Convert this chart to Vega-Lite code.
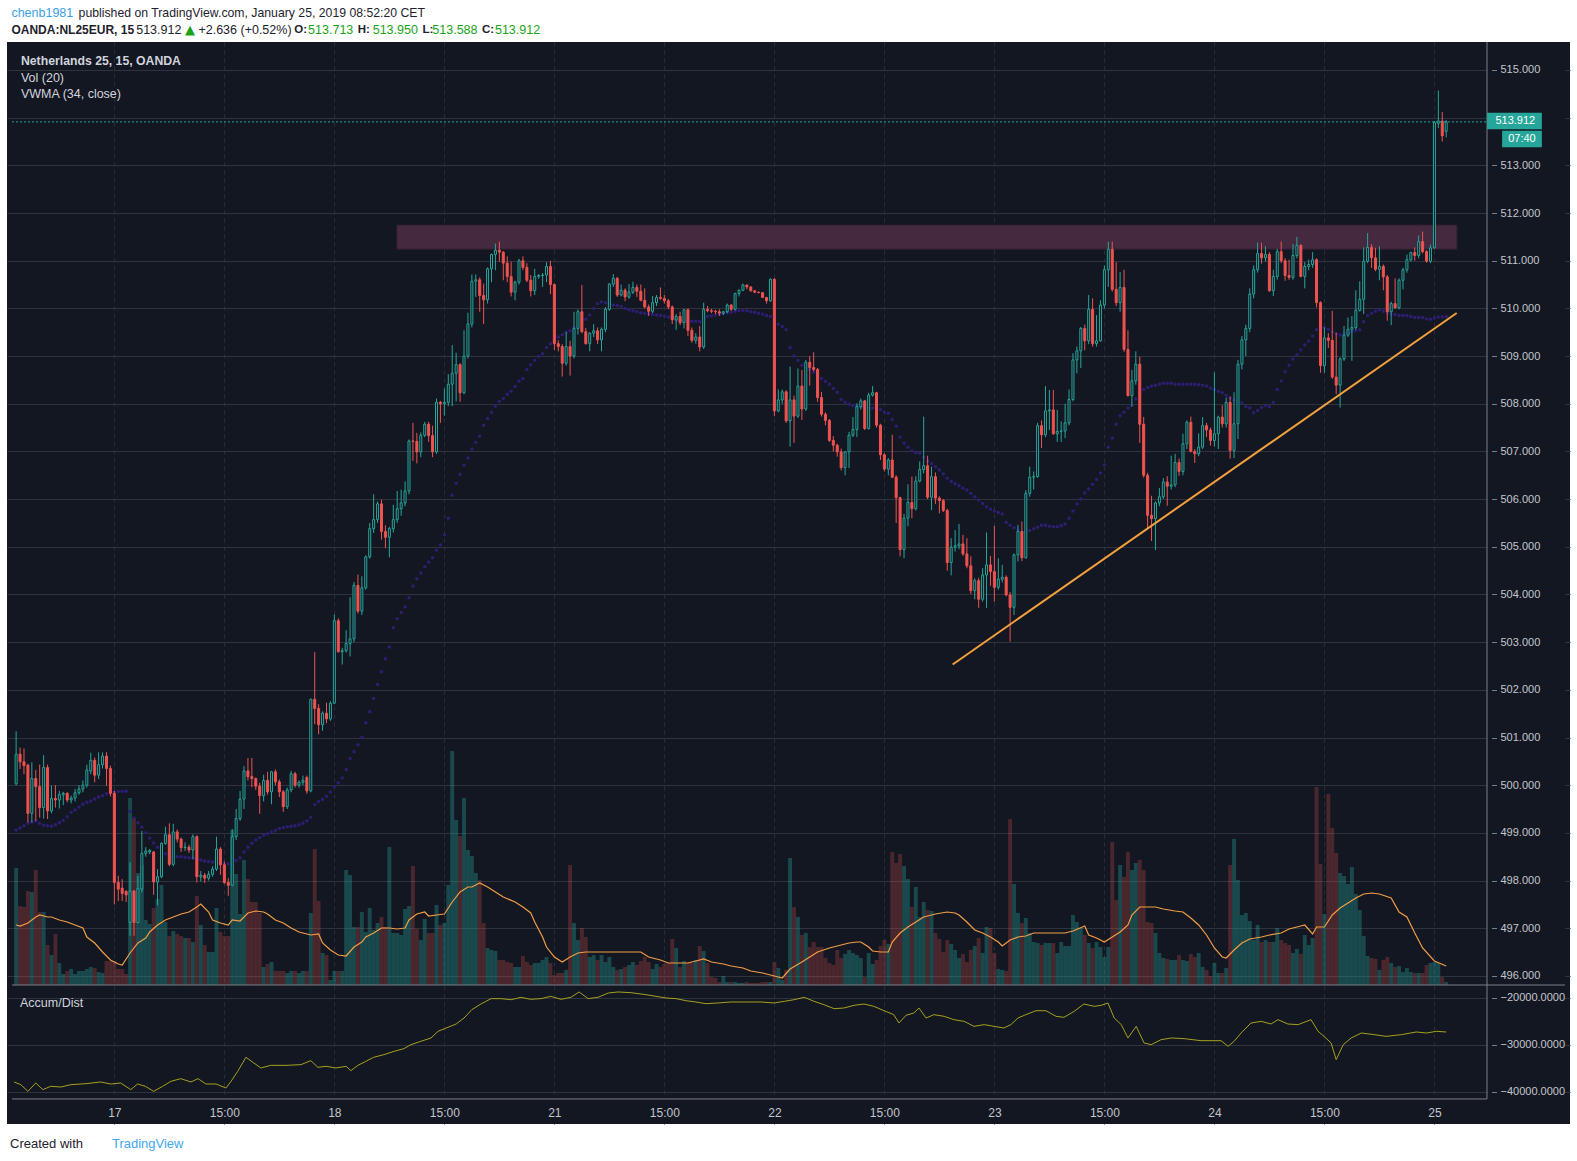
{
  "$schema": "https://vega.github.io/schema/vega-lite/v6.json",
  "width": 1563,
  "height": 1082,
  "autosize": {"type": "none"},
  "padding": {"left": 7, "top": 42, "right": 7, "bottom": 37},
  "background": "white",
  "config": {
    "font": "Liberation Sans",
    "view": {"fill": "#131722", "stroke": null},
    "axis": {"labelFont": "Liberation Sans"}
  },
  "datasets": {
    "bars": [
{"i":0,"o":500.03,"h":501.13,"l":500,"c":500.65,"v":117,"w":499.06},
{"i":1,"o":500.65,"h":500.79,"l":500.34,"c":500.49,"v":79,"w":499.1},
{"i":2,"o":500.49,"h":500.77,"l":500.23,"c":500.41,"v":78,"w":499.15},
{"i":3,"o":500.42,"h":500.45,"l":499.22,"c":499.41,"v":94,"w":499.2},
{"i":4,"o":499.41,"h":500.48,"l":499.22,"c":500.14,"v":93,"w":499.23},
{"i":5,"o":500.14,"h":500.32,"l":499.25,"c":499.97,"v":115,"w":499.25},
{"i":6,"o":499.97,"h":500.43,"l":499.32,"c":499.53,"v":73,"w":499.2},
{"i":7,"o":499.53,"h":500.63,"l":499.3,"c":500.37,"v":73,"w":499.16},
{"i":8,"o":500.37,"h":500.43,"l":499.29,"c":499.46,"v":40,"w":499.15},
{"i":9,"o":499.46,"h":499.99,"l":499.41,"c":499.72,"v":30,"w":499.14},
{"i":10,"o":499.72,"h":500,"l":499.53,"c":499.69,"v":51,"w":499.17},
{"i":11,"o":499.69,"h":499.88,"l":499.51,"c":499.8,"v":22,"w":499.21},
{"i":12,"o":499.8,"h":499.86,"l":499.58,"c":499.83,"v":11,"w":499.26},
{"i":13,"o":499.83,"h":499.85,"l":499.64,"c":499.69,"v":14,"w":499.34},
{"i":14,"o":499.69,"h":499.78,"l":499.62,"c":499.73,"v":16,"w":499.43},
{"i":15,"o":499.73,"h":499.92,"l":499.66,"c":499.84,"v":11,"w":499.48},
{"i":16,"o":499.84,"h":500,"l":499.8,"c":499.92,"v":14,"w":499.54},
{"i":17,"o":499.92,"h":500.1,"l":499.85,"c":500,"v":14,"w":499.6},
{"i":18,"o":500,"h":500.43,"l":499.95,"c":500.32,"v":16,"w":499.64},
{"i":19,"o":500.3,"h":500.68,"l":500.23,"c":500.52,"v":18,"w":499.67},
{"i":20,"o":500.52,"h":500.58,"l":500.06,"c":500.21,"v":17,"w":499.71},
{"i":21,"o":500.21,"h":500.69,"l":500.13,"c":500.43,"v":13,"w":499.75},
{"i":22,"o":500.43,"h":500.69,"l":500.35,"c":500.61,"v":12,"w":499.78},
{"i":23,"o":500.61,"h":500.69,"l":499.99,"c":500.35,"v":24,"w":499.82},
{"i":24,"o":500.35,"h":500.41,"l":499.76,"c":499.83,"v":24,"w":499.84},
{"i":25,"o":499.83,"h":499.88,"l":497.5,"c":497.96,"v":24,"w":499.86},
{"i":26,"o":497.96,"h":498.1,"l":497.57,"c":497.82,"v":16,"w":499.87},
{"i":27,"o":497.84,"h":498.03,"l":497.57,"c":497.73,"v":16,"w":499.87},
{"i":28,"o":497.77,"h":497.8,"l":497.55,"c":497.7,"v":11,"w":499.88},
{"i":29,"o":497.12,"h":498.38,"l":496.84,"c":497.78,"v":187,"w":499.45},
{"i":30,"o":497.78,"h":497.8,"l":496.84,"c":497.12,"v":167,"w":499.31},
{"i":31,"o":497.12,"h":498.1,"l":497.1,"c":497.83,"v":112,"w":499.21},
{"i":32,"o":497.82,"h":499.04,"l":497.75,"c":498.57,"v":120,"w":499.12},
{"i":33,"o":498.57,"h":498.7,"l":498.5,"c":498.62,"v":65,"w":499},
{"i":34,"o":498.6,"h":498.66,"l":498.55,"c":498.63,"v":61,"w":498.89},
{"i":35,"o":498.6,"h":498.62,"l":497.7,"c":497.97,"v":77,"w":498.79},
{"i":36,"o":497.97,"h":498.24,"l":497.48,"c":498.08,"v":86,"w":498.7},
{"i":37,"o":498.08,"h":498.8,"l":498.05,"c":498.78,"v":100,"w":498.62},
{"i":38,"o":498.78,"h":499.13,"l":498.75,"c":498.96,"v":63,"w":498.56},
{"i":39,"o":498.96,"h":499.2,"l":498.3,"c":498.34,"v":49,"w":498.52},
{"i":40,"o":498.34,"h":499.19,"l":498.3,"c":499.02,"v":54,"w":498.51},
{"i":41,"o":499.02,"h":499.07,"l":498.8,"c":498.87,"v":51,"w":498.5},
{"i":42,"o":498.87,"h":498.9,"l":498.6,"c":498.69,"v":49,"w":498.5},
{"i":43,"o":498.69,"h":498.8,"l":498.62,"c":498.7,"v":47,"w":498.49},
{"i":44,"o":498.7,"h":498.75,"l":498.58,"c":498.64,"v":47,"w":498.48},
{"i":45,"o":498.64,"h":498.97,"l":498.45,"c":498.92,"v":43,"w":498.47},
{"i":46,"o":498.92,"h":498.95,"l":497.96,"c":498.08,"v":89,"w":498.45},
{"i":47,"o":498.08,"h":498.2,"l":497.98,"c":498.11,"v":60,"w":498.43},
{"i":48,"o":498.11,"h":498.16,"l":497.95,"c":498.05,"v":40,"w":498.41},
{"i":49,"o":498.05,"h":498.2,"l":498,"c":498.13,"v":33,"w":498.4},
{"i":50,"o":498.13,"h":498.3,"l":498.08,"c":498.24,"v":33,"w":498.39},
{"i":51,"o":498.24,"h":498.92,"l":498.2,"c":498.66,"v":77,"w":498.37},
{"i":52,"o":498.66,"h":498.7,"l":498.12,"c":498.33,"v":53,"w":498.36},
{"i":53,"o":498.33,"h":498.4,"l":497.93,"c":497.96,"v":49,"w":498.35},
{"i":54,"o":497.96,"h":498.05,"l":497.68,"c":497.9,"v":49,"w":498.35},
{"i":55,"o":497.9,"h":499.08,"l":497.88,"c":498.92,"v":155,"w":498.37},
{"i":56,"o":498.92,"h":499.5,"l":498.85,"c":499.3,"v":111,"w":498.42},
{"i":57,"o":499.3,"h":499.88,"l":499.25,"c":499.71,"v":71,"w":498.48},
{"i":58,"o":499.71,"h":500.4,"l":499.5,"c":500.3,"v":125,"w":498.6},
{"i":59,"o":500.3,"h":500.57,"l":500.1,"c":500.18,"v":106,"w":498.7},
{"i":60,"o":500.18,"h":500.57,"l":499.96,"c":500.14,"v":83,"w":498.78},
{"i":61,"o":500.14,"h":500.16,"l":499.9,"c":499.98,"v":83,"w":498.85},
{"i":62,"o":499.98,"h":500.05,"l":499.4,"c":499.78,"v":72,"w":498.9},
{"i":63,"o":499.78,"h":500.22,"l":499.66,"c":500.1,"v":18,"w":498.95},
{"i":64,"o":500.1,"h":500.28,"l":499.8,"c":499.86,"v":21,"w":498.98},
{"i":65,"o":499.86,"h":500.3,"l":499.6,"c":500.28,"v":23,"w":499.02},
{"i":66,"o":500.28,"h":500.33,"l":500,"c":500.07,"v":14,"w":499.05},
{"i":67,"o":500.07,"h":500.12,"l":499.75,"c":499.86,"v":14,"w":499.09},
{"i":68,"o":499.86,"h":499.9,"l":499.44,"c":499.55,"v":14,"w":499.11},
{"i":69,"o":499.55,"h":499.95,"l":499.5,"c":499.9,"v":12,"w":499.13},
{"i":70,"o":499.9,"h":500.3,"l":499.85,"c":500.24,"v":14,"w":499.14},
{"i":71,"o":500.24,"h":500.28,"l":499.95,"c":500,"v":14,"w":499.15},
{"i":72,"o":500,"h":500.1,"l":499.95,"c":500.06,"v":12,"w":499.17},
{"i":73,"o":500.06,"h":500.2,"l":500,"c":500.1,"v":14,"w":499.2},
{"i":74,"o":500.16,"h":500.2,"l":499.82,"c":499.88,"v":14,"w":499.25},
{"i":75,"o":499.88,"h":501.82,"l":499.85,"c":501.8,"v":72,"w":499.33},
{"i":76,"o":501.8,"h":502.79,"l":501.28,"c":501.61,"v":136,"w":499.59},
{"i":77,"o":501.61,"h":501.7,"l":501.07,"c":501.27,"v":84,"w":499.66},
{"i":78,"o":501.27,"h":501.55,"l":501.14,"c":501.51,"v":32,"w":499.7},
{"i":79,"o":501.51,"h":501.73,"l":501.3,"c":501.39,"v":30,"w":499.77},
{"i":80,"o":501.39,"h":501.76,"l":501.35,"c":501.72,"v":5,"w":499.86},
{"i":81,"o":501.72,"h":503.58,"l":501.7,"c":503.45,"v":14,"w":499.97},
{"i":82,"o":503.45,"h":503.5,"l":502.78,"c":502.8,"v":14,"w":500.05},
{"i":83,"o":502.8,"h":502.88,"l":502.53,"c":502.82,"v":14,"w":500.15},
{"i":84,"o":502.82,"h":503.25,"l":502.78,"c":502.97,"v":115,"w":500.33},
{"i":85,"o":502.97,"h":503.94,"l":502.7,"c":503.07,"v":110,"w":500.56},
{"i":86,"o":503.07,"h":504.26,"l":503,"c":504.19,"v":58,"w":500.7},
{"i":87,"o":504.19,"h":504.42,"l":503.6,"c":503.65,"v":58,"w":500.85},
{"i":88,"o":503.65,"h":504.38,"l":503.57,"c":504.14,"v":73,"w":501},
{"i":89,"o":504.14,"h":504.82,"l":504.1,"c":504.79,"v":53,"w":501.31},
{"i":90,"o":504.79,"h":505.5,"l":504.75,"c":505.38,"v":77,"w":501.54},
{"i":91,"o":505.38,"h":506.1,"l":505.29,"c":505.57,"v":55,"w":501.82},
{"i":92,"o":505.57,"h":505.95,"l":505.5,"c":505.9,"v":62,"w":502.11},
{"i":93,"o":505.9,"h":505.99,"l":505.15,"c":505.32,"v":68,"w":502.38},
{"i":94,"o":505.32,"h":505.45,"l":504.97,"c":505.2,"v":58,"w":502.65},
{"i":95,"o":505.2,"h":505.42,"l":504.78,"c":505.38,"v":138,"w":502.9},
{"i":96,"o":505.38,"h":505.88,"l":505.3,"c":505.57,"v":52,"w":503.3},
{"i":97,"o":505.57,"h":506.17,"l":505.5,"c":505.8,"v":52,"w":503.49},
{"i":98,"o":505.8,"h":506.2,"l":505.65,"c":505.92,"v":50,"w":503.62},
{"i":99,"o":505.92,"h":506.37,"l":505.85,"c":506.17,"v":76,"w":503.74},
{"i":100,"o":506.17,"h":507.25,"l":506.1,"c":507.22,"v":79,"w":503.93},
{"i":101,"o":507.22,"h":507.6,"l":506.8,"c":507.21,"v":119,"w":504.18},
{"i":102,"o":507.21,"h":507.39,"l":506.75,"c":506.99,"v":56,"w":504.33},
{"i":103,"o":506.99,"h":507.4,"l":506.88,"c":507.34,"v":45,"w":504.45},
{"i":104,"o":507.34,"h":507.62,"l":507.3,"c":507.57,"v":66,"w":504.58},
{"i":105,"o":507.57,"h":507.62,"l":507.2,"c":507.33,"v":52,"w":504.68},
{"i":106,"o":507.33,"h":507.54,"l":506.88,"c":506.99,"v":52,"w":504.77},
{"i":107,"o":506.99,"h":508.11,"l":506.95,"c":508.03,"v":80,"w":504.93},
{"i":108,"o":508.03,"h":508.06,"l":507.6,"c":508,"v":60,"w":505.04},
{"i":109,"o":508,"h":508.32,"l":507.75,"c":508.03,"v":62,"w":505.25},
{"i":110,"o":508.03,"h":508.62,"l":507.95,"c":508.41,"v":100,"w":505.6},
{"i":111,"o":508.41,"h":509.23,"l":507.95,"c":508.64,"v":234,"w":506.08},
{"i":112,"o":508.64,"h":509.07,"l":508.05,"c":508.82,"v":165,"w":506.33},
{"i":113,"o":508.82,"h":508.85,"l":508.04,"c":508.23,"v":149,"w":506.52},
{"i":114,"o":508.23,"h":509.54,"l":508.2,"c":509,"v":187,"w":506.71},
{"i":115,"o":509,"h":509.91,"l":508.95,"c":509.67,"v":135,"w":506.86},
{"i":116,"o":509.67,"h":510.71,"l":509.6,"c":510.57,"v":129,"w":507.05},
{"i":117,"o":510.57,"h":510.71,"l":510.24,"c":510.6,"v":112,"w":507.19},
{"i":118,"o":510.6,"h":510.65,"l":509.93,"c":510.27,"v":105,"w":507.32},
{"i":119,"o":510.27,"h":510.52,"l":509.67,"c":510.18,"v":62,"w":507.55},
{"i":120,"o":510.18,"h":510.86,"l":510.1,"c":510.83,"v":37,"w":507.69},
{"i":121,"o":510.83,"h":511.15,"l":510.55,"c":511.13,"v":35,"w":507.82},
{"i":122,"o":511.13,"h":511.36,"l":510.8,"c":511.22,"v":34,"w":507.95},
{"i":123,"o":511.22,"h":511.4,"l":510.98,"c":511.18,"v":25,"w":508.05},
{"i":124,"o":511.18,"h":511.2,"l":510.59,"c":510.95,"v":25,"w":508.11},
{"i":125,"o":510.95,"h":511.09,"l":510.55,"c":510.67,"v":23,"w":508.2},
{"i":126,"o":510.67,"h":510.98,"l":510.25,"c":510.34,"v":22,"w":508.26},
{"i":127,"o":510.34,"h":510.58,"l":510.17,"c":510.55,"v":18,"w":508.36},
{"i":128,"o":510.55,"h":511.04,"l":510.5,"c":511,"v":18,"w":508.47},
{"i":129,"o":511,"h":511.09,"l":510.8,"c":510.86,"v":29,"w":508.53},
{"i":130,"o":510.86,"h":510.95,"l":510.55,"c":510.59,"v":23,"w":508.72},
{"i":131,"o":510.59,"h":510.7,"l":510.25,"c":510.37,"v":20,"w":508.82},
{"i":132,"o":510.37,"h":510.83,"l":510.28,"c":510.67,"v":22,"w":508.91},
{"i":133,"o":510.67,"h":510.72,"l":510.62,"c":510.69,"v":22,"w":508.99},
{"i":134,"o":510.69,"h":510.74,"l":510.45,"c":510.7,"v":25,"w":509.05},
{"i":135,"o":510.7,"h":510.97,"l":510.55,"c":510.88,"v":28,"w":509.18},
{"i":136,"o":510.88,"h":511,"l":510.3,"c":510.5,"v":22,"w":509.26},
{"i":137,"o":510.5,"h":510.52,"l":509.13,"c":509.26,"v":10,"w":509.37},
{"i":138,"o":509.26,"h":509.33,"l":509.1,"c":509.2,"v":12,"w":509.4},
{"i":139,"o":509.2,"h":509.25,"l":508.57,"c":508.85,"v":12,"w":509.45},
{"i":140,"o":508.85,"h":509.5,"l":508.8,"c":509.2,"v":15,"w":509.5},
{"i":141,"o":509.2,"h":509.32,"l":508.59,"c":509,"v":120,"w":509.53},
{"i":142,"o":509,"h":509.93,"l":508.95,"c":509.58,"v":62,"w":509.6},
{"i":143,"o":509.58,"h":509.98,"l":509.45,"c":509.93,"v":45,"w":509.66},
{"i":144,"o":509.93,"h":510.49,"l":509.48,"c":509.51,"v":57,"w":509.72},
{"i":145,"o":509.51,"h":509.59,"l":509.24,"c":509.26,"v":48,"w":509.77},
{"i":146,"o":509.26,"h":509.5,"l":509.1,"c":509.48,"v":28,"w":509.86},
{"i":147,"o":509.48,"h":509.67,"l":509.4,"c":509.53,"v":30,"w":510},
{"i":148,"o":509.53,"h":509.6,"l":509.25,"c":509.34,"v":25,"w":510.1},
{"i":149,"o":509.34,"h":509.6,"l":509.1,"c":509.56,"v":30,"w":510.14},
{"i":150,"o":509.56,"h":510.03,"l":509.5,"c":509.98,"v":23,"w":510.12},
{"i":151,"o":509.98,"h":510.53,"l":509.95,"c":510.51,"v":28,"w":510.09},
{"i":152,"o":510.51,"h":510.72,"l":510.45,"c":510.63,"v":18,"w":510.07},
{"i":153,"o":510.63,"h":510.66,"l":510.24,"c":510.28,"v":15,"w":510.06},
{"i":154,"o":510.28,"h":510.5,"l":510.25,"c":510.38,"v":16,"w":510.04},
{"i":155,"o":510.38,"h":510.42,"l":510.15,"c":510.24,"v":18,"w":510},
{"i":156,"o":510.24,"h":510.51,"l":510.2,"c":510.34,"v":20,"w":509.97},
{"i":157,"o":510.34,"h":510.56,"l":510.3,"c":510.44,"v":23,"w":509.95},
{"i":158,"o":510.44,"h":510.5,"l":510.24,"c":510.36,"v":20,"w":509.93},
{"i":159,"o":510.36,"h":510.5,"l":510.15,"c":510.17,"v":24,"w":509.91},
{"i":160,"o":510.17,"h":510.42,"l":510,"c":510.03,"v":28,"w":509.9},
{"i":161,"o":510.03,"h":510.08,"l":509.84,"c":509.94,"v":23,"w":509.89},
{"i":162,"o":509.94,"h":510.26,"l":509.9,"c":510.12,"v":16,"w":509.87},
{"i":163,"o":510.12,"h":510.28,"l":510.05,"c":510.23,"v":21,"w":509.86},
{"i":164,"o":510.23,"h":510.44,"l":510.18,"c":510.21,"v":18,"w":509.85},
{"i":165,"o":510.21,"h":510.28,"l":510.1,"c":510.16,"v":21,"w":509.84},
{"i":166,"o":510.16,"h":510.2,"l":509.98,"c":510.03,"v":22,"w":509.82},
{"i":167,"o":510.03,"h":510.06,"l":509.67,"c":509.76,"v":46,"w":509.79},
{"i":168,"o":509.76,"h":509.88,"l":509.55,"c":509.83,"v":37,"w":509.75},
{"i":169,"o":509.83,"h":509.93,"l":509.65,"c":509.7,"v":18,"w":509.74},
{"i":170,"o":509.7,"h":509.98,"l":509.58,"c":509.97,"v":24,"w":509.73},
{"i":171,"o":509.97,"h":510,"l":509.42,"c":509.54,"v":22,"w":509.73},
{"i":172,"o":509.54,"h":509.6,"l":509.28,"c":509.33,"v":22,"w":509.73},
{"i":173,"o":509.33,"h":509.48,"l":509.26,"c":509.4,"v":25,"w":509.73},
{"i":174,"o":509.4,"h":509.63,"l":509.1,"c":509.19,"v":39,"w":509.72},
{"i":175,"o":509.19,"h":510.12,"l":509.15,"c":509.98,"v":34,"w":509.8},
{"i":176,"o":509.98,"h":510.05,"l":509.92,"c":509.95,"v":22,"w":509.83},
{"i":177,"o":509.95,"h":509.99,"l":509.9,"c":509.94,"v":8,"w":509.84},
{"i":178,"o":509.94,"h":509.97,"l":509.88,"c":509.93,"v":7,"w":509.86},
{"i":179,"o":509.93,"h":509.98,"l":509.84,"c":509.9,"v":3,"w":509.88},
{"i":180,"o":509.9,"h":509.95,"l":509.86,"c":509.93,"v":9,"w":509.9},
{"i":181,"o":509.93,"h":510.1,"l":509.9,"c":510.07,"v":3,"w":509.91},
{"i":182,"o":510.07,"h":510.09,"l":509.95,"c":509.98,"v":3,"w":509.92},
{"i":183,"o":509.98,"h":510.33,"l":509.96,"c":510.31,"v":3,"w":509.94},
{"i":184,"o":510.31,"h":510.4,"l":510.25,"c":510.38,"v":2,"w":509.95},
{"i":185,"o":510.38,"h":510.52,"l":510.36,"c":510.49,"v":2,"w":509.96},
{"i":186,"o":510.49,"h":510.5,"l":510.4,"c":510.45,"v":3,"w":509.95},
{"i":187,"o":510.45,"h":510.46,"l":510.35,"c":510.37,"v":2,"w":509.93},
{"i":188,"o":510.37,"h":510.38,"l":510.32,"c":510.34,"v":2,"w":509.92},
{"i":189,"o":510.34,"h":510.35,"l":510.32,"c":510.33,"v":2,"w":509.9},
{"i":190,"o":510.33,"h":510.34,"l":510.22,"c":510.23,"v":3,"w":509.88},
{"i":191,"o":510.23,"h":510.24,"l":510.1,"c":510.16,"v":3,"w":509.85},
{"i":192,"o":510.16,"h":510.63,"l":510.14,"c":510.61,"v":3,"w":509.83},
{"i":193,"o":510.61,"h":510.63,"l":507.74,"c":507.85,"v":23,"w":509.76},
{"i":194,"o":507.85,"h":508.3,"l":507.82,"c":508.08,"v":17,"w":509.67},
{"i":195,"o":508.08,"h":508.3,"l":508,"c":508.25,"v":5,"w":509.62},
{"i":196,"o":508.25,"h":508.28,"l":507.6,"c":507.64,"v":15,"w":509.55},
{"i":197,"o":507.64,"h":508.78,"l":507.1,"c":508.08,"v":127,"w":509.18},
{"i":198,"o":508.08,"h":508.17,"l":507.18,"c":507.74,"v":78,"w":509},
{"i":199,"o":507.74,"h":508.74,"l":507.7,"c":508.37,"v":68,"w":508.91},
{"i":200,"o":508.37,"h":508.71,"l":507.66,"c":507.89,"v":50,"w":508.81},
{"i":201,"o":507.89,"h":508.92,"l":507.85,"c":508.87,"v":52,"w":508.76},
{"i":202,"o":508.87,"h":509,"l":508.38,"c":508.76,"v":38,"w":508.72},
{"i":203,"o":508.76,"h":509.08,"l":508.68,"c":508.72,"v":43,"w":508.66},
{"i":204,"o":508.72,"h":508.75,"l":508.04,"c":508.13,"v":38,"w":508.6},
{"i":205,"o":508.13,"h":508.25,"l":507.73,"c":507.78,"v":38,"w":508.53},
{"i":206,"o":507.78,"h":507.82,"l":507.55,"c":507.65,"v":27,"w":508.47},
{"i":207,"o":507.65,"h":507.68,"l":507.2,"c":507.23,"v":22,"w":508.41},
{"i":208,"o":507.23,"h":507.32,"l":507,"c":507.13,"v":20,"w":508.32},
{"i":209,"o":507.13,"h":507.16,"l":506.89,"c":506.99,"v":35,"w":508.24},
{"i":210,"o":506.99,"h":507.06,"l":506.6,"c":506.66,"v":27,"w":508.09},
{"i":211,"o":506.66,"h":507,"l":506.5,"c":506.99,"v":31,"w":508.03},
{"i":212,"o":506.99,"h":507.41,"l":506.65,"c":507.34,"v":35,"w":507.99},
{"i":213,"o":507.34,"h":507.72,"l":507.3,"c":507.46,"v":32,"w":507.96},
{"i":214,"o":507.46,"h":508.01,"l":507.3,"c":507.94,"v":30,"w":507.94},
{"i":215,"o":507.94,"h":508.11,"l":507.88,"c":508.06,"v":27,"w":507.93},
{"i":216,"o":508.06,"h":508.08,"l":507.45,"c":507.48,"v":8,"w":507.93},
{"i":217,"o":507.48,"h":508.23,"l":507.46,"c":508.18,"v":32,"w":507.92},
{"i":218,"o":508.18,"h":508.37,"l":508.15,"c":508.23,"v":21,"w":507.91},
{"i":219,"o":508.23,"h":508.25,"l":507.5,"c":507.55,"v":25,"w":507.9},
{"i":220,"o":507.55,"h":507.58,"l":506.82,"c":506.93,"v":39,"w":507.88},
{"i":221,"o":506.93,"h":506.96,"l":506.58,"c":506.63,"v":45,"w":507.82},
{"i":222,"o":506.63,"h":506.86,"l":506.5,"c":506.82,"v":41,"w":507.8},
{"i":223,"o":506.82,"h":507.35,"l":506.44,"c":506.46,"v":133,"w":507.67},
{"i":224,"o":506.46,"h":506.5,"l":505.5,"c":506.03,"v":122,"w":507.53},
{"i":225,"o":506.03,"h":506.05,"l":504.8,"c":504.94,"v":131,"w":507.3},
{"i":226,"o":504.94,"h":505.69,"l":504.76,"c":505.6,"v":119,"w":507.17},
{"i":227,"o":505.6,"h":506.31,"l":505.43,"c":505.93,"v":106,"w":507.09},
{"i":228,"o":505.93,"h":506.47,"l":505.6,"c":505.8,"v":78,"w":507.01},
{"i":229,"o":505.8,"h":506.48,"l":505.76,"c":506.38,"v":98,"w":506.97},
{"i":230,"o":506.38,"h":506.79,"l":506.35,"c":506.62,"v":68,"w":506.96},
{"i":231,"o":506.62,"h":507.73,"l":506.54,"c":506.7,"v":83,"w":506.88},
{"i":232,"o":506.7,"h":506.91,"l":506,"c":506.04,"v":75,"w":506.8},
{"i":233,"o":506.04,"h":506.68,"l":505.77,"c":506.47,"v":74,"w":506.74},
{"i":234,"o":506.47,"h":506.56,"l":505.9,"c":506.02,"v":52,"w":506.68},
{"i":235,"o":506.02,"h":506.06,"l":505.7,"c":505.97,"v":46,"w":506.61},
{"i":236,"o":505.97,"h":506,"l":505.73,"c":505.76,"v":33,"w":506.53},
{"i":237,"o":505.76,"h":505.8,"l":504.5,"c":504.67,"v":45,"w":506.44},
{"i":238,"o":504.67,"h":505.18,"l":504.4,"c":504.99,"v":41,"w":506.37},
{"i":239,"o":504.99,"h":505.35,"l":504.9,"c":505.02,"v":35,"w":506.32},
{"i":240,"o":505.02,"h":505.48,"l":504.95,"c":505.06,"v":27,"w":506.28},
{"i":241,"o":505.06,"h":505.25,"l":504.81,"c":504.85,"v":31,"w":506.23},
{"i":242,"o":504.85,"h":505.18,"l":504.55,"c":504.6,"v":23,"w":506.19},
{"i":243,"o":504.6,"h":504.8,"l":504.01,"c":504.08,"v":35,"w":506.12},
{"i":244,"o":504.08,"h":504.34,"l":503.9,"c":504.29,"v":39,"w":506.05},
{"i":245,"o":504.29,"h":504.35,"l":503.72,"c":503.9,"v":47,"w":505.98},
{"i":246,"o":503.9,"h":504.55,"l":503.85,"c":504.41,"v":32,"w":505.91},
{"i":247,"o":504.41,"h":505.3,"l":503.72,"c":504.62,"v":58,"w":505.84},
{"i":248,"o":504.62,"h":504.81,"l":504.18,"c":504.48,"v":57,"w":505.79},
{"i":249,"o":504.48,"h":505.44,"l":503.85,"c":504.15,"v":32,"w":505.75},
{"i":250,"o":504.15,"h":504.76,"l":504.1,"c":504.32,"v":16,"w":505.72},
{"i":251,"o":504.32,"h":504.62,"l":504.25,"c":504.36,"v":15,"w":505.69},
{"i":252,"o":504.36,"h":504.4,"l":503.96,"c":503.99,"v":14,"w":505.51},
{"i":253,"o":503.99,"h":504.05,"l":503.01,"c":503.73,"v":166,"w":505.45},
{"i":254,"o":503.73,"h":504.86,"l":503.57,"c":504.83,"v":101,"w":505.4},
{"i":255,"o":504.83,"h":505.46,"l":504.69,"c":505.32,"v":72,"w":505.35},
{"i":256,"o":505.32,"h":505.53,"l":504.7,"c":504.77,"v":62,"w":505.3},
{"i":257,"o":504.77,"h":506.19,"l":504.75,"c":506.12,"v":67,"w":505.31},
{"i":258,"o":506.12,"h":506.68,"l":506.05,"c":506.46,"v":52,"w":505.34},
{"i":259,"o":506.46,"h":506.58,"l":506.2,"c":506.47,"v":43,"w":505.38},
{"i":260,"o":506.47,"h":507.6,"l":506.45,"c":507.54,"v":42,"w":505.41},
{"i":261,"o":507.54,"h":507.65,"l":507.07,"c":507.35,"v":40,"w":505.45},
{"i":262,"o":507.35,"h":508.37,"l":507.3,"c":507.85,"v":42,"w":505.45},
{"i":263,"o":507.85,"h":508.29,"l":507.45,"c":507.87,"v":42,"w":505.43},
{"i":264,"o":507.87,"h":508.29,"l":507.35,"c":507.37,"v":42,"w":505.42},
{"i":265,"o":507.37,"h":507.87,"l":507.2,"c":507.42,"v":32,"w":505.42},
{"i":266,"o":507.42,"h":507.63,"l":507.2,"c":507.43,"v":43,"w":505.44},
{"i":267,"o":507.43,"h":508,"l":507.28,"c":507.6,"v":39,"w":505.48},
{"i":268,"o":507.6,"h":508.3,"l":507.55,"c":508.09,"v":39,"w":505.6},
{"i":269,"o":508.09,"h":509.06,"l":508.05,"c":508.92,"v":70,"w":505.75},
{"i":270,"o":508.92,"h":509.2,"l":508.64,"c":509.11,"v":63,"w":505.9},
{"i":271,"o":509.11,"h":509.61,"l":508.75,"c":509.58,"v":57,"w":506},
{"i":272,"o":509.58,"h":509.66,"l":509.12,"c":509.32,"v":50,"w":506.13},
{"i":273,"o":509.32,"h":510.28,"l":509.25,"c":509.98,"v":42,"w":506.21},
{"i":274,"o":509.98,"h":510.21,"l":509.2,"c":509.26,"v":37,"w":506.31},
{"i":275,"o":509.26,"h":509.86,"l":509.2,"c":509.32,"v":43,"w":506.41},
{"i":276,"o":509.32,"h":510.17,"l":509.3,"c":510.07,"v":38,"w":506.55},
{"i":277,"o":510.07,"h":510.9,"l":510,"c":510.81,"v":28,"w":506.72},
{"i":278,"o":510.81,"h":511.4,"l":510.45,"c":511.24,"v":38,"w":507.09},
{"i":279,"o":511.24,"h":511.4,"l":510.35,"c":510.4,"v":143,"w":507.28},
{"i":280,"o":510.4,"h":510.97,"l":510.05,"c":510.12,"v":85,"w":507.57},
{"i":281,"o":510.12,"h":510.76,"l":509.93,"c":510.44,"v":120,"w":507.75},
{"i":282,"o":510.44,"h":510.81,"l":509.09,"c":509.14,"v":108,"w":507.82},
{"i":283,"o":509.14,"h":509.54,"l":508.15,"c":508.17,"v":133,"w":507.91},
{"i":284,"o":508.17,"h":508.71,"l":507.94,"c":508.48,"v":115,"w":507.97},
{"i":285,"o":508.48,"h":509.1,"l":508.4,"c":508.83,"v":122,"w":508.1},
{"i":286,"o":508.83,"h":508.99,"l":507.18,"c":507.57,"v":125,"w":508.22},
{"i":287,"o":507.57,"h":507.72,"l":506.45,"c":506.5,"v":115,"w":508.3},
{"i":288,"o":506.5,"h":506.55,"l":505.38,"c":505.66,"v":63,"w":508.34},
{"i":289,"o":505.66,"h":506.07,"l":505.12,"c":505.59,"v":62,"w":508.37},
{"i":290,"o":505.59,"h":505.95,"l":504.93,"c":505.92,"v":52,"w":508.39},
{"i":291,"o":505.92,"h":506.23,"l":505.85,"c":506.05,"v":32,"w":508.41},
{"i":292,"o":506.05,"h":506.44,"l":506,"c":506.36,"v":27,"w":508.43},
{"i":293,"o":506.36,"h":506.48,"l":505.86,"c":506.27,"v":26,"w":508.43},
{"i":294,"o":506.27,"h":506.91,"l":506.2,"c":506.3,"v":25,"w":508.43},
{"i":295,"o":506.3,"h":506.95,"l":506.25,"c":506.77,"v":25,"w":508.41},
{"i":296,"o":506.77,"h":506.85,"l":506.49,"c":506.58,"v":30,"w":508.41},
{"i":297,"o":506.58,"h":507.37,"l":506.5,"c":507.16,"v":25,"w":508.41},
{"i":298,"o":507.16,"h":507.65,"l":507.05,"c":507.61,"v":24,"w":508.41},
{"i":299,"o":507.61,"h":507.73,"l":506.98,"c":507,"v":31,"w":508.41},
{"i":300,"o":507,"h":507.05,"l":506.76,"c":506.95,"v":28,"w":508.41},
{"i":301,"o":506.95,"h":507.38,"l":506.9,"c":507.09,"v":32,"w":508.4},
{"i":302,"o":507.09,"h":507.72,"l":507.05,"c":507.54,"v":18,"w":508.39},
{"i":303,"o":507.54,"h":507.6,"l":507.3,"c":507.45,"v":15,"w":508.37},
{"i":304,"o":507.45,"h":507.5,"l":507.12,"c":507.23,"v":9,"w":508.33},
{"i":305,"o":507.23,"h":508.66,"l":507.1,"c":507.37,"v":22,"w":508.3},
{"i":306,"o":507.37,"h":507.75,"l":507.05,"c":507.72,"v":12,"w":508.26},
{"i":307,"o":507.72,"h":507.97,"l":507.5,"c":507.58,"v":12,"w":508.23},
{"i":308,"o":507.58,"h":508.13,"l":507.5,"c":508.03,"v":17,"w":508.18},
{"i":309,"o":508.03,"h":508.15,"l":506.85,"c":507.02,"v":120,"w":508.12},
{"i":310,"o":507.02,"h":508.24,"l":506.86,"c":507.58,"v":146,"w":508.08},
{"i":311,"o":507.58,"h":508.92,"l":507.26,"c":508.83,"v":105,"w":508.05},
{"i":312,"o":508.83,"h":509.42,"l":508.72,"c":509.34,"v":70,"w":508.02},
{"i":313,"o":509.34,"h":509.66,"l":509,"c":509.58,"v":72,"w":507.94},
{"i":314,"o":509.58,"h":510.42,"l":509.5,"c":510.3,"v":64,"w":507.91},
{"i":315,"o":510.3,"h":510.9,"l":510.21,"c":510.81,"v":45,"w":507.81},
{"i":316,"o":510.81,"h":511.38,"l":510.75,"c":511.15,"v":60,"w":507.86},
{"i":317,"o":511.15,"h":511.38,"l":510.94,"c":511.06,"v":43,"w":507.92},
{"i":318,"o":511.06,"h":511.3,"l":510.98,"c":511.13,"v":45,"w":507.97},
{"i":319,"o":511.13,"h":511.18,"l":510.35,"c":510.37,"v":43,"w":507.94},
{"i":320,"o":510.37,"h":510.81,"l":510.26,"c":510.67,"v":43,"w":508.03},
{"i":321,"o":510.67,"h":511.25,"l":510.6,"c":511.19,"v":57,"w":508.3},
{"i":322,"o":511.19,"h":511.4,"l":510.95,"c":511,"v":45,"w":508.48},
{"i":323,"o":511,"h":511.05,"l":510.58,"c":510.69,"v":42,"w":508.67},
{"i":324,"o":510.69,"h":511.02,"l":510.6,"c":510.65,"v":40,"w":508.81},
{"i":325,"o":510.65,"h":511.35,"l":510.6,"c":511.11,"v":32,"w":508.94},
{"i":326,"o":511.11,"h":511.5,"l":511.05,"c":511.32,"v":36,"w":509.03},
{"i":327,"o":511.32,"h":511.35,"l":510.65,"c":510.67,"v":31,"w":509.13},
{"i":328,"o":510.67,"h":510.97,"l":510.42,"c":510.88,"v":50,"w":509.23},
{"i":329,"o":510.88,"h":511.02,"l":510.8,"c":510.92,"v":40,"w":509.31},
{"i":330,"o":510.92,"h":511.18,"l":510.85,"c":511.02,"v":47,"w":509.42},
{"i":331,"o":511.02,"h":511.05,"l":510.02,"c":510.12,"v":198,"w":509.55},
{"i":332,"o":510.12,"h":510.15,"l":508.65,"c":508.8,"v":121,"w":509.58},
{"i":333,"o":508.8,"h":509.6,"l":508.65,"c":509.38,"v":71,"w":509.6},
{"i":334,"o":509.38,"h":509.48,"l":509.17,"c":509.33,"v":191,"w":509.56},
{"i":335,"o":509.33,"h":509.95,"l":508.52,"c":508.56,"v":157,"w":509.51},
{"i":336,"o":508.56,"h":509.49,"l":508.2,"c":508.39,"v":132,"w":509.47},
{"i":337,"o":508.39,"h":508.97,"l":507.92,"c":508.94,"v":112,"w":509.44},
{"i":338,"o":508.94,"h":509.63,"l":508.9,"c":509.44,"v":109,"w":509.48},
{"i":339,"o":509.44,"h":509.81,"l":509.4,"c":509.56,"v":101,"w":509.49},
{"i":340,"o":509.56,"h":509.84,"l":508.9,"c":509.6,"v":118,"w":509.51},
{"i":341,"o":509.6,"h":510.38,"l":509.55,"c":509.96,"v":91,"w":509.53},
{"i":342,"o":509.96,"h":510.57,"l":509.93,"c":510.19,"v":75,"w":509.55},
{"i":343,"o":510.19,"h":511.28,"l":509.88,"c":510.99,"v":49,"w":509.72},
{"i":344,"o":510.99,"h":511.58,"l":510.95,"c":511.28,"v":29,"w":509.85},
{"i":345,"o":511.28,"h":511.35,"l":510.85,"c":511.06,"v":27,"w":509.9},
{"i":346,"o":511.06,"h":511.27,"l":510.78,"c":510.82,"v":26,"w":509.94},
{"i":347,"o":510.82,"h":511.3,"l":510.59,"c":510.88,"v":15,"w":509.97},
{"i":348,"o":510.88,"h":510.92,"l":510.38,"c":510.66,"v":25,"w":509.94},
{"i":349,"o":510.66,"h":510.7,"l":509.74,"c":509.93,"v":28,"w":509.9},
{"i":350,"o":509.93,"h":510.14,"l":509.65,"c":510.1,"v":22,"w":509.88},
{"i":351,"o":510.1,"h":510.63,"l":510,"c":510.01,"v":18,"w":509.87},
{"i":352,"o":510.01,"h":510.63,"l":509.98,"c":510.59,"v":19,"w":509.85},
{"i":353,"o":510.59,"h":510.85,"l":510.4,"c":510.81,"v":13,"w":509.85},
{"i":354,"o":510.81,"h":511.13,"l":510.75,"c":511.02,"v":17,"w":509.85},
{"i":355,"o":511.02,"h":511.19,"l":510.98,"c":511.17,"v":13,"w":509.83},
{"i":356,"o":511.17,"h":511.28,"l":511,"c":511.11,"v":12,"w":509.81},
{"i":357,"o":511.11,"h":511.53,"l":511.05,"c":511.4,"v":12,"w":509.81},
{"i":358,"o":511.4,"h":511.61,"l":511.15,"c":511.19,"v":12,"w":509.81},
{"i":359,"o":511.19,"h":511.22,"l":510.96,"c":510.99,"v":20,"w":509.78},
{"i":360,"o":510.99,"h":511.34,"l":510.95,"c":511.27,"v":22,"w":509.77},
{"i":361,"o":511.27,"h":513.93,"l":511.25,"c":513.9,"v":23,"w":509.8},
{"i":362,"o":513.88,"h":514.57,"l":513.78,"c":513.93,"v":22,"w":509.82},
{"i":363,"o":513.93,"h":514.12,"l":513.5,"c":513.62,"v":8,"w":509.82},
{"i":364,"o":513.713,"h":513.95,"l":513.588,"c":513.912,"v":3,"w":509.83}
    ],
    "vma": [
{"i":0,"m":60},{"i":1,"m":59},{"i":3,"m":62},{"i":5,"m":68},{"i":6,"m":70},{"i":8,"m":68},{"i":9,"m":68},{"i":11,"m":65},{"i":13,"m":63},{"i":15,"m":60},{"i":17,"m":57},{"i":18,"m":48},{"i":20,"m":42},{"i":22,"m":33},{"i":24,"m":25},{"i":26,"m":21},{"i":27,"m":20},{"i":29,"m":32},{"i":31,"m":42},{"i":33,"m":47},{"i":34,"m":53},{"i":36,"m":60},{"i":38,"m":65},{"i":40,"m":68},{"i":42,"m":71},{"i":44,"m":73},{"i":46,"m":78},{"i":47,"m":81},{"i":49,"m":73},{"i":50,"m":65},{"i":52,"m":62},{"i":54,"m":60},{"i":55,"m":65},{"i":57,"m":64},{"i":59,"m":72},{"i":61,"m":74},{"i":63,"m":73},{"i":64,"m":71},{"i":66,"m":65},{"i":68,"m":62},{"i":70,"m":57},{"i":72,"m":53},{"i":74,"m":51},{"i":75,"m":50},{"i":77,"m":51},{"i":78,"m":42},{"i":80,"m":35},{"i":82,"m":30},{"i":84,"m":29},{"i":86,"m":38},{"i":88,"m":43},{"i":89,"m":48},{"i":91,"m":52},{"i":93,"m":57},{"i":95,"m":57},{"i":97,"m":56},{"i":99,"m":57},{"i":100,"m":65},{"i":102,"m":71},{"i":104,"m":73},{"i":105,"m":69},{"i":107,"m":70},{"i":109,"m":71},{"i":111,"m":83},{"i":113,"m":93},{"i":115,"m":98},{"i":116,"m":98},{"i":118,"m":102},{"i":120,"m":98},{"i":122,"m":93},{"i":124,"m":88},{"i":127,"m":83},{"i":129,"m":78},{"i":131,"m":72},{"i":132,"m":63},{"i":134,"m":48},{"i":135,"m":38},{"i":137,"m":28},{"i":139,"m":23},{"i":141,"m":28},{"i":143,"m":32},{"i":145,"m":33},{"i":149,"m":33},{"i":152,"m":33},{"i":156,"m":33},{"i":159,"m":33},{"i":161,"m":28},{"i":164,"m":25},{"i":166,"m":22},{"i":168,"m":22},{"i":171,"m":22},{"i":173,"m":24},{"i":175,"m":26},{"i":177,"m":23},{"i":180,"m":21},{"i":182,"m":19},{"i":185,"m":17},{"i":187,"m":14},{"i":190,"m":12},{"i":192,"m":10},{"i":194,"m":8},{"i":195,"m":7},{"i":197,"m":16},{"i":200,"m":23},{"i":202,"m":28},{"i":204,"m":33},{"i":207,"m":37},{"i":209,"m":39},{"i":212,"m":42},{"i":214,"m":43},{"i":215,"m":43},{"i":217,"m":38},{"i":218,"m":34},{"i":220,"m":33},{"i":222,"m":33},{"i":223,"m":43},{"i":225,"m":52},{"i":227,"m":58},{"i":229,"m":63},{"i":231,"m":68},{"i":233,"m":70},{"i":234,"m":71},{"i":237,"m":73},{"i":239,"m":72},{"i":240,"m":70},{"i":242,"m":63},{"i":244,"m":55},{"i":246,"m":52},{"i":248,"m":48},{"i":250,"m":43},{"i":251,"m":39},{"i":253,"m":45},{"i":255,"m":48},{"i":257,"m":49},{"i":259,"m":52},{"i":262,"m":52},{"i":264,"m":52},{"i":267,"m":52},{"i":269,"m":54},{"i":272,"m":59},{"i":273,"m":50},{"i":275,"m":47},{"i":277,"m":43},{"i":279,"m":48},{"i":281,"m":53},{"i":283,"m":60},{"i":284,"m":70},{"i":286,"m":78},{"i":288,"m":78},{"i":290,"m":78},{"i":292,"m":76},{"i":295,"m":74},{"i":297,"m":73},{"i":299,"m":67},{"i":301,"m":60},{"i":303,"m":50},{"i":305,"m":37},{"i":307,"m":28},{"i":308,"m":27},{"i":310,"m":35},{"i":312,"m":42},{"i":314,"m":46},{"i":317,"m":48},{"i":319,"m":50},{"i":322,"m":52},{"i":324,"m":56},{"i":327,"m":59},{"i":328,"m":60},{"i":330,"m":51},{"i":331,"m":58},{"i":333,"m":58},{"i":335,"m":70},{"i":337,"m":77},{"i":339,"m":82},{"i":341,"m":87},{"i":343,"m":91},{"i":345,"m":92},{"i":347,"m":91},{"i":350,"m":87},{"i":352,"m":73},{"i":354,"m":68},{"i":356,"m":52},{"i":358,"m":37},{"i":361,"m":24},{"i":364,"m":19}
    ],
    "ad": [
{"i":-0.5,"a":-37870},{"i":1.2,"a":-38440},{"i":3,"a":-39860},{"i":5,"a":-38090},{"i":6.8,"a":-39500},{"i":8.8,"a":-38790},{"i":11.4,"a":-38940},{"i":13.9,"a":-38440},{"i":17.7,"a":-38230},{"i":21.5,"a":-37870},{"i":24.1,"a":-38300},{"i":26.6,"a":-38090},{"i":29.2,"a":-39500},{"i":30.9,"a":-38300},{"i":32.9,"a":-38790},{"i":35,"a":-39860},{"i":37.3,"a":-38790},{"i":39.4,"a":-37730},{"i":41.9,"a":-37160},{"i":44.5,"a":-37870},{"i":46.3,"a":-37160},{"i":48.3,"a":-38300},{"i":50.9,"a":-38300},{"i":53.4,"a":-39150},{"i":54.7,"a":-37730},{"i":56.4,"a":-35600},{"i":58.5,"a":-32620},{"i":60.5,"a":-33830},{"i":62.3,"a":-34890},{"i":64.8,"a":-34330},{"i":68.7,"a":-34330},{"i":72.5,"a":-34180},{"i":75,"a":-33330},{"i":76.8,"a":-34750},{"i":78.9,"a":-34540},{"i":81.4,"a":-34890},{"i":84,"a":-34540},{"i":85.2,"a":-35460},{"i":87,"a":-34330},{"i":89,"a":-33480},{"i":91,"a":-32620},{"i":93.6,"a":-32060},{"i":96.2,"a":-31350},{"i":98.7,"a":-30780},{"i":100.5,"a":-29930},{"i":103,"a":-29220},{"i":105.6,"a":-28510},{"i":107.4,"a":-27090},{"i":109.9,"a":-26240},{"i":112,"a":-25530},{"i":114,"a":-24260},{"i":116,"a":-22480},{"i":118.3,"a":-21280},{"i":120.9,"a":-20140},{"i":123.4,"a":-20140},{"i":126,"a":-20360},{"i":128.5,"a":-19860},{"i":131,"a":-20280},{"i":133.6,"a":-20140},{"i":136.1,"a":-19650},{"i":138.7,"a":-20280},{"i":141.2,"a":-19860},{"i":143.3,"a":-18720},{"i":145.6,"a":-20140},{"i":148.1,"a":-19860},{"i":150.7,"a":-18940},{"i":153.2,"a":-18720},{"i":156.5,"a":-18870},{"i":160.3,"a":-19290},{"i":162.9,"a":-19650},{"i":165.4,"a":-20000},{"i":168,"a":-20140},{"i":170.5,"a":-20570},{"i":173,"a":-20850},{"i":175.6,"a":-21210},{"i":178.6,"a":-21060},{"i":181.9,"a":-20850},{"i":185.8,"a":-20850},{"i":189.6,"a":-20850},{"i":192.9,"a":-21060},{"i":195.5,"a":-20710},{"i":198,"a":-20360},{"i":200.6,"a":-19860},{"i":203.1,"a":-20710},{"i":205.6,"a":-21420},{"i":208.2,"a":-22270},{"i":210.7,"a":-22130},{"i":213.3,"a":-21560},{"i":215.8,"a":-21280},{"i":218.3,"a":-21770},{"i":220.9,"a":-22700},{"i":223.4,"a":-23550},{"i":224.7,"a":-25320},{"i":226.5,"a":-23690},{"i":228.5,"a":-23190},{"i":229.8,"a":-22130},{"i":231.6,"a":-24260},{"i":233.6,"a":-23550},{"i":236.2,"a":-23900},{"i":238.7,"a":-24610},{"i":241.3,"a":-24970},{"i":243.8,"a":-26030},{"i":246.4,"a":-25670},{"i":248.9,"a":-26030},{"i":251.4,"a":-26380},{"i":253.2,"a":-25670},{"i":255,"a":-24260},{"i":257,"a":-23550},{"i":259.6,"a":-22700},{"i":262.1,"a":-22700},{"i":264.7,"a":-23900},{"i":266.7,"a":-24110},{"i":269.3,"a":-22840},{"i":271.8,"a":-21280},{"i":274.4,"a":-21770},{"i":276.2,"a":-21560},{"i":277.9,"a":-21060},{"i":279.5,"a":-24260},{"i":281.3,"a":-25670},{"i":283,"a":-28510},{"i":285.1,"a":-26030},{"i":287.1,"a":-29570},{"i":288.9,"a":-29930},{"i":291.4,"a":-28870},{"i":294,"a":-28510},{"i":297.3,"a":-28650},{"i":301.6,"a":-29080},{"i":306.7,"a":-29080},{"i":308.5,"a":-30280},{"i":310,"a":-29220},{"i":311.8,"a":-27450},{"i":314.3,"a":-25320},{"i":316.9,"a":-24970},{"i":319.4,"a":-25530},{"i":321.2,"a":-24610},{"i":323.7,"a":-25530},{"i":326.3,"a":-25670},{"i":329.6,"a":-24610},{"i":331.4,"a":-27090},{"i":332.9,"a":-28160},{"i":334.7,"a":-29570},{"i":336,"a":-33120},{"i":337.8,"a":-29930},{"i":339.8,"a":-28510},{"i":342.4,"a":-27450},{"i":345.7,"a":-27800},{"i":348.7,"a":-28160},{"i":352.6,"a":-27800},{"i":356.4,"a":-27230},{"i":359,"a":-27450},{"i":361.5,"a":-27090},{"i":364,"a":-27230}
    ]
  },
  "data": {"name": "bars"},
  "resolve": {
    "scale": {"y": "independent"},
    "axis": {"x": "independent", "y": "independent"}
  },
  "layer": [
    {
      "mark": {"type": "bar", "orient": "vertical"},
      "encoding": {
        "x": {"field": "i", "type": "quantitative", "scale": {"domain": [-1.05, 394.24], "nice": false, "zero": false}, "axis": null},
        "y": {"field": "v", "type": "quantitative", "stack": null, "scale": {"domain": [-139, 943], "nice": false, "zero": false}, "axis": null},
        "y2": {"datum": 0},
        "size": {"value": 3.92},
        "fill": {"condition": {"test": "datum.c >= datum.o", "value": "rgba(38,166,154,0.35)"}, "value": "rgba(239,83,80,0.25)"}
      }
    },
    {
      "data": {"name": "vma"},
      "mark": {"type": "line", "color": "#f29d45", "strokeWidth": 1.2},
      "encoding": {
        "x": {"field": "i", "type": "quantitative", "scale": {"domain": [-1.05, 394.24], "nice": false, "zero": false}, "axis": null},
        "y": {"field": "m", "type": "quantitative", "scale": {"domain": [-139, 943], "nice": false, "zero": false}, "axis": null}
      }
    },
    {
      "data": {"values": [{}]},
      "mark": {"type": "rect", "fill": "#45293f", "stroke": "#2d1f2d", "strokeWidth": 1},
      "encoding": {
        "x": {"datum": 96.9, "type": "quantitative", "scale": {"domain": [-1.05, 394.24], "nice": false, "zero": false},
          "axis": {"orient": "bottom", "values": [25, 53, 81, 109, 137, 165, 193, 221, 249, 277, 305, 333, 361], "grid": true, "gridColor": "#2a2e39", "gridDash": [4, 4], "gridWidth": 1, "labels": false, "ticks": false, "domain": false, "title": null, "zindex": 0}},
        "x2": {"datum": 366.75},
        "y": {"datum": 511.749, "type": "quantitative", "scale": {"domain": [492.894, 515.587], "nice": false, "zero": false},
          "axis": {"orient": "right", "values": [496, 497, 498, 499, 500, 501, 502, 503, 504, 505, 506, 507, 508, 509, 510, 511, 512, 513, 514, 515], "grid": true, "gridColor": "#2f333d", "gridWidth": 1, "labels": false, "ticks": false, "domain": false, "title": null, "zindex": 0}},
        "y2": {"datum": 511.24}
      }
    },
    {
      "mark": {"type": "point", "filled": true, "size": 12, "color": "#2d1e72", "opacity": 1, "strokeWidth": 0},
      "encoding": {
        "x": {"field": "i", "type": "quantitative", "scale": {"domain": [-1.05, 394.24], "nice": false, "zero": false}, "axis": null},
        "y": {"field": "w", "type": "quantitative", "scale": {"domain": [492.894, 515.587], "nice": false, "zero": false}, "axis": null}
      }
    },
    {
      "mark": {"type": "rule", "strokeWidth": 1},
      "encoding": {
        "x": {"field": "i", "type": "quantitative", "scale": {"domain": [-1.05, 394.24], "nice": false, "zero": false}, "axis": null},
        "y": {"field": "l", "type": "quantitative", "scale": {"domain": [492.894, 515.587], "nice": false, "zero": false}, "axis": null},
        "y2": {"field": "h"},
        "color": {"condition": {"test": "datum.c >= datum.o", "value": "#26a69a"}, "value": "#ef5350"}
      }
    },
    {
      "mark": {"type": "bar", "orient": "vertical", "strokeWidth": 1},
      "encoding": {
        "x": {"field": "i", "type": "quantitative", "scale": {"domain": [-1.05, 394.24], "nice": false, "zero": false}, "axis": null},
        "y": {"field": "o", "type": "quantitative", "stack": null, "scale": {"domain": [492.894, 515.587], "nice": false, "zero": false}, "axis": null},
        "y2": {"field": "c"},
        "size": {"value": 2},
        "fill": {"condition": {"test": "datum.c >= datum.o", "value": "#131722"}, "value": "#ef5350"},
        "stroke": {"condition": {"test": "datum.c >= datum.o", "value": "#26a69a"}, "value": "#ef5350"}
      }
    },
    {
      "data": {"values": [{}]},
      "mark": {"type": "rule", "color": "#f5a03c", "strokeWidth": 2},
      "encoding": {
        "x": {"datum": 238.38, "type": "quantitative", "scale": {"domain": [-1.05, 394.24], "nice": false, "zero": false}, "axis": null},
        "x2": {"datum": 366.68},
        "y": {"datum": 502.532, "type": "quantitative", "scale": {"domain": [492.894, 515.587], "nice": false, "zero": false}, "axis": null},
        "y2": {"datum": 509.904}
      }
    },
    {
      "data": {"values": [{}]},
      "mark": {"type": "rule", "color": "#26a69a", "strokeWidth": 1, "strokeDash": [2, 2]},
      "encoding": {
        "x": {"datum": -1.05, "type": "quantitative", "scale": {"domain": [-1.05, 394.24], "nice": false, "zero": false}, "axis": null},
        "x2": {"datum": 374.39},
        "y": {"datum": 513.912, "type": "quantitative", "scale": {"domain": [492.894, 515.587], "nice": false, "zero": false}, "axis": null}
      }
    },
    {
      "data": {"name": "ad"},
      "mark": {"type": "line", "color": "#a6a11d", "strokeWidth": 1},
      "encoding": {
        "x": {"field": "i", "type": "quantitative", "scale": {"domain": [-1.05, 394.24], "nice": false, "zero": false}, "axis": null},
        "y": {"field": "a", "type": "quantitative", "scale": {"domain": [-46809, 183404], "nice": false, "zero": false},
          "axis": {"orient": "right", "values": [-20000, -30000, -40000], "grid": true, "gridColor": "#2f333d", "labels": false, "ticks": false, "domain": false, "title": null, "zindex": 0}}
      }
    },
    {
      "data": {"values": [{}]},
      "mark": {"type": "rect", "fill": "#131722"},
      "encoding": {
        "x": {"datum": 374.39, "type": "quantitative", "scale": {"domain": [-1.05, 394.24], "nice": false, "zero": false}, "axis": null},
        "x2": {"datum": 394.24},
        "y": {"datum": 492.894, "type": "quantitative", "scale": {"domain": [492.894, 515.587], "nice": false, "zero": false},
          "axis": {"orient": "right", "offset": -78.5, "values": [496, 497, 498, 499, 500, 501, 502, 503, 504, 505, 506, 507, 508, 509, 510, 511, 512, 513, 515], "format": ".3f", "grid": false, "domain": false, "ticks": true, "tickSize": 5, "tickColor": "#7b7e86", "labels": true, "labelColor": "#c3c6cc", "labelFontSize": 11, "labelPadding": 3.5, "labelOverlap": false, "labelFlush": false, "title": null, "zindex": 1}},
        "y2": {"datum": 515.587}
      }
    },
    {
      "data": {"values": [{}]},
      "mark": {"type": "rect", "fill": "#131722"},
      "encoding": {
        "x": {"datum": -1.05, "type": "quantitative", "scale": {"domain": [-1.05, 394.24], "nice": false, "zero": false},
          "axis": {"orient": "bottom", "offset": -25, "values": [25, 53, 81, 109, 137, 165, 193, 221, 249, 277, 305, 333, 361], "labelExpr": "['17','15:00','18','15:00','21','15:00','22','15:00','23','15:00','24','15:00','25'][round((datum.value-25)/28)]", "grid": false, "domain": false, "ticks": false, "labels": true, "labelColor": "#c3c6cc", "labelFontSize": 12, "labelPadding": 8, "labelOverlap": false, "labelFlush": false, "title": null, "zindex": 1}},
        "x2": {"datum": 394.24},
        "y": {"datum": 492.894, "type": "quantitative", "scale": {"domain": [492.894, 515.587], "nice": false, "zero": false}, "axis": null},
        "y2": {"datum": 493.419}
      }
    },
    {
      "data": {"values": [{}]},
      "mark": {"type": "rule", "color": "#7b7e86", "strokeWidth": 1},
      "encoding": {
        "x": {"datum": -1.05, "type": "quantitative", "scale": {"domain": [-1.05, 394.24], "nice": false, "zero": false}, "axis": null},
        "x2": {"datum": 394.24},
        "y": {"datum": 495.809, "type": "quantitative", "scale": {"domain": [492.894, 515.587], "nice": false, "zero": false}, "axis": null}
      }
    },
    {
      "data": {"values": [{}]},
      "mark": {"type": "rule", "color": "#7b7e86", "strokeWidth": 1},
      "encoding": {
        "x": {"datum": 374.39, "type": "quantitative", "scale": {"domain": [-1.05, 394.24], "nice": false, "zero": false}, "axis": null},
        "y": {"datum": 493.419, "type": "quantitative", "scale": {"domain": [492.894, 515.587], "nice": false, "zero": false}, "axis": null},
        "y2": {"datum": 515.587}
      }
    },
    {
      "data": {"values": [{}]},
      "mark": {"type": "rule", "color": "#7b7e86", "strokeWidth": 1},
      "encoding": {
        "x": {"datum": -1.05, "type": "quantitative", "scale": {"domain": [-1.05, 394.24], "nice": false, "zero": false}, "axis": null},
        "x2": {"datum": 374.39},
        "y": {"datum": 493.419, "type": "quantitative", "scale": {"domain": [492.894, 515.587], "nice": false, "zero": false}, "axis": null}
      }
    },
    {
      "data": {"values": [{}]},
      "mark": {"type": "rect", "fill": "#26a69a"},
      "encoding": {
        "x": {"datum": 374.39, "type": "quantitative", "scale": {"domain": [-1.05, 394.24], "nice": false, "zero": false}, "axis": null},
        "x2": {"datum": 388.35},
        "y": {"datum": 514.105, "type": "quantitative", "scale": {"domain": [492.894, 515.587], "nice": false, "zero": false}, "axis": null},
        "y2": {"datum": 513.756}
      }
    },
    {
      "data": {"values": [{}]},
      "mark": {"type": "rect", "fill": "#26a69a"},
      "encoding": {
        "x": {"datum": 378.23, "type": "quantitative", "scale": {"domain": [-1.05, 394.24], "nice": false, "zero": false}, "axis": null},
        "x2": {"datum": 388.35},
        "y": {"datum": 513.727, "type": "quantitative", "scale": {"domain": [492.894, 515.587], "nice": false, "zero": false}, "axis": null},
        "y2": {"datum": 513.379}
      }
    },
    {
      "data": {"values": [{"t": "513.912"}]},
      "mark": {"type": "text", "align": "left", "baseline": "middle", "font": "Liberation Sans", "fontSize": 11, "color": "#ffffff"},
      "encoding": {
        "x": {"datum": 376.53, "type": "quantitative", "scale": {"domain": [-1.05, 394.24], "nice": false, "zero": false}, "axis": null},
        "y": {"datum": 513.93, "type": "quantitative", "scale": {"domain": [492.894, 515.587], "nice": false, "zero": false}, "axis": null},
        "text": {"field": "t"}
      }
    },
    {
      "data": {"values": [{"t": "07:40"}]},
      "mark": {"type": "text", "align": "center", "baseline": "middle", "font": "Liberation Sans", "fontSize": 11, "color": "#ffffff"},
      "encoding": {
        "x": {"datum": 383.29, "type": "quantitative", "scale": {"domain": [-1.05, 394.24], "nice": false, "zero": false}, "axis": null},
        "y": {"datum": 513.553, "type": "quantitative", "scale": {"domain": [492.894, 515.587], "nice": false, "zero": false}, "axis": null},
        "text": {"field": "t"}
      }
    },
    {
      "data": {"values": [{"t": "Accum/Dist"}]},
      "mark": {"type": "text", "align": "left", "baseline": "middle", "font": "Liberation Sans", "fontSize": 12.5, "color": "#d1d4dc"},
      "encoding": {
        "x": {"datum": 0.98, "type": "quantitative", "scale": {"domain": [-1.05, 394.24], "nice": false, "zero": false}, "axis": null},
        "y": {"datum": -21128, "type": "quantitative", "scale": {"domain": [-46809, 183404], "nice": false, "zero": false},
          "axis": {"orient": "right", "offset": -78.5, "values": [-20000, -30000, -40000], "format": ".4f", "grid": false, "domain": false, "ticks": true, "tickSize": 5, "tickColor": "#7b7e86", "labels": true, "labelColor": "#c3c6cc", "labelFontSize": 11, "labelPadding": 3.5, "labelOverlap": false, "labelFlush": false, "title": null, "zindex": 1}},
        "text": {"field": "t"}
      }
    },
    {
      "data": {"values": [{"t": "Netherlands 25, 15, OANDA"}]},
      "mark": {"type": "text", "align": "left", "baseline": "middle", "font": "Liberation Sans", "fontSize": 12.25, "fontWeight": "bold", "color": "#d1d4dc"},
      "encoding": {
        "x": {"datum": 1.23, "type": "quantitative", "scale": {"domain": [-1.05, 394.24], "nice": false, "zero": false}, "axis": null},
        "y": {"datum": 515.189, "type": "quantitative", "scale": {"domain": [492.894, 515.587], "nice": false, "zero": false}, "axis": null},
        "text": {"field": "t"}
      }
    },
    {
      "data": {"values": [{"t": "Vol (20)"}]},
      "mark": {"type": "text", "align": "left", "baseline": "middle", "font": "Liberation Sans", "fontSize": 12.5, "color": "#d1d4dc"},
      "encoding": {
        "x": {"datum": 1.23, "type": "quantitative", "scale": {"domain": [-1.05, 394.24], "nice": false, "zero": false}, "axis": null},
        "y": {"datum": 514.839, "type": "quantitative", "scale": {"domain": [492.894, 515.587], "nice": false, "zero": false}, "axis": null},
        "text": {"field": "t"}
      }
    },
    {
      "data": {"values": [{"t": "VWMA (34, close)"}]},
      "mark": {"type": "text", "align": "left", "baseline": "middle", "font": "Liberation Sans", "fontSize": 12.5, "color": "#d1d4dc"},
      "encoding": {
        "x": {"datum": 1.23, "type": "quantitative", "scale": {"domain": [-1.05, 394.24], "nice": false, "zero": false}, "axis": null},
        "y": {"datum": 514.49, "type": "quantitative", "scale": {"domain": [492.894, 515.587], "nice": false, "zero": false}, "axis": null},
        "text": {"field": "t"}
      }
    },
    {
      "data": {"values": [{"t": "chenb1981"}]},
      "mark": {"type": "text", "align": "left", "baseline": "middle", "font": "Liberation Sans", "fontSize": 12.5, "color": "#3aa0e4"},
      "encoding": {
        "x": {"datum": -1.2, "type": "quantitative", "scale": {"domain": [-1.05, 394.24], "nice": false, "zero": false}, "axis": null},
        "y": {"datum": 516.189, "type": "quantitative", "scale": {"domain": [492.894, 515.587], "nice": false, "zero": false}, "axis": null},
        "text": {"field": "t"}
      }
    },
    {
      "data": {"values": [{"t": "published on TradingView.com, January 25, 2019 08:52:20 CET"}]},
      "mark": {"type": "text", "align": "left", "baseline": "middle", "font": "Liberation Sans", "fontSize": 12.25, "color": "#1e222d"},
      "encoding": {
        "x": {"datum": 15.9, "type": "quantitative", "scale": {"domain": [-1.05, 394.24], "nice": false, "zero": false}, "axis": null},
        "y": {"datum": 516.189, "type": "quantitative", "scale": {"domain": [492.894, 515.587], "nice": false, "zero": false}, "axis": null},
        "text": {"field": "t"}
      }
    },
    {
      "data": {"values": [{"t": "OANDA:NL25EUR, 15"}]},
      "mark": {"type": "text", "align": "left", "baseline": "middle", "font": "Liberation Sans", "fontSize": 12, "fontWeight": "bold", "color": "#1e222d"},
      "encoding": {
        "x": {"datum": -1.2, "type": "quantitative", "scale": {"domain": [-1.05, 394.24], "nice": false, "zero": false}, "axis": null},
        "y": {"datum": 515.839, "type": "quantitative", "scale": {"domain": [492.894, 515.587], "nice": false, "zero": false}, "axis": null},
        "text": {"field": "t"}
      }
    },
    {
      "data": {"values": [{"t": "513.912"}]},
      "mark": {"type": "text", "align": "left", "baseline": "middle", "font": "Liberation Sans", "fontSize": 12.5, "color": "#1e222d"},
      "encoding": {
        "x": {"datum": 30.56, "type": "quantitative", "scale": {"domain": [-1.05, 394.24], "nice": false, "zero": false}, "axis": null},
        "y": {"datum": 515.839, "type": "quantitative", "scale": {"domain": [492.894, 515.587], "nice": false, "zero": false}, "axis": null},
        "text": {"field": "t"}
      }
    },
    {
      "data": {"values": [{"t": "▲"}]},
      "mark": {"type": "text", "align": "left", "baseline": "middle", "font": "DejaVu Sans", "fontSize": 13, "color": "#1aa31a"},
      "encoding": {
        "x": {"datum": 42.96, "type": "quantitative", "scale": {"domain": [-1.05, 394.24], "nice": false, "zero": false}, "axis": null},
        "y": {"datum": 515.839, "type": "quantitative", "scale": {"domain": [492.894, 515.587], "nice": false, "zero": false}, "axis": null},
        "text": {"field": "t"}
      }
    },
    {
      "data": {"values": [{"t": "+2.636 (+0.52%)"}]},
      "mark": {"type": "text", "align": "left", "baseline": "middle", "font": "Liberation Sans", "fontSize": 12.5, "color": "#1e222d"},
      "encoding": {
        "x": {"datum": 46.4, "type": "quantitative", "scale": {"domain": [-1.05, 394.24], "nice": false, "zero": false}, "axis": null},
        "y": {"datum": 515.839, "type": "quantitative", "scale": {"domain": [492.894, 515.587], "nice": false, "zero": false}, "axis": null},
        "text": {"field": "t"}
      }
    },
    {
      "data": {"values": [{"t": "O:"}]},
      "mark": {"type": "text", "align": "left", "baseline": "middle", "font": "Liberation Sans", "fontSize": 11.5, "fontWeight": "bold", "color": "#1e222d"},
      "encoding": {
        "x": {"datum": 70.78, "type": "quantitative", "scale": {"domain": [-1.05, 394.24], "nice": false, "zero": false}, "axis": null},
        "y": {"datum": 515.839, "type": "quantitative", "scale": {"domain": [492.894, 515.587], "nice": false, "zero": false}, "axis": null},
        "text": {"field": "t"}
      }
    },
    {
      "data": {"values": [{"t": "H:"}]},
      "mark": {"type": "text", "align": "left", "baseline": "middle", "font": "Liberation Sans", "fontSize": 11.5, "fontWeight": "bold", "color": "#1e222d"},
      "encoding": {
        "x": {"datum": 86.97, "type": "quantitative", "scale": {"domain": [-1.05, 394.24], "nice": false, "zero": false}, "axis": null},
        "y": {"datum": 515.839, "type": "quantitative", "scale": {"domain": [492.894, 515.587], "nice": false, "zero": false}, "axis": null},
        "text": {"field": "t"}
      }
    },
    {
      "data": {"values": [{"t": "L:"}]},
      "mark": {"type": "text", "align": "left", "baseline": "middle", "font": "Liberation Sans", "fontSize": 11.5, "fontWeight": "bold", "color": "#1e222d"},
      "encoding": {
        "x": {"datum": 103.41, "type": "quantitative", "scale": {"domain": [-1.05, 394.24], "nice": false, "zero": false}, "axis": null},
        "y": {"datum": 515.839, "type": "quantitative", "scale": {"domain": [492.894, 515.587], "nice": false, "zero": false}, "axis": null},
        "text": {"field": "t"}
      }
    },
    {
      "data": {"values": [{"t": "C:"}]},
      "mark": {"type": "text", "align": "left", "baseline": "middle", "font": "Liberation Sans", "fontSize": 11.5, "fontWeight": "bold", "color": "#1e222d"},
      "encoding": {
        "x": {"datum": 118.58, "type": "quantitative", "scale": {"domain": [-1.05, 394.24], "nice": false, "zero": false}, "axis": null},
        "y": {"datum": 515.839, "type": "quantitative", "scale": {"domain": [492.894, 515.587], "nice": false, "zero": false}, "axis": null},
        "text": {"field": "t"}
      }
    },
    {
      "data": {"values": [{"t": "513.713"}]},
      "mark": {"type": "text", "align": "left", "baseline": "middle", "font": "Liberation Sans", "fontSize": 12.5, "color": "#1aa31a"},
      "encoding": {
        "x": {"datum": 74.32, "type": "quantitative", "scale": {"domain": [-1.05, 394.24], "nice": false, "zero": false}, "axis": null},
        "y": {"datum": 515.839, "type": "quantitative", "scale": {"domain": [492.894, 515.587], "nice": false, "zero": false}, "axis": null},
        "text": {"field": "t"}
      }
    },
    {
      "data": {"values": [{"t": "513.950"}]},
      "mark": {"type": "text", "align": "left", "baseline": "middle", "font": "Liberation Sans", "fontSize": 12.5, "color": "#1aa31a"},
      "encoding": {
        "x": {"datum": 90.76, "type": "quantitative", "scale": {"domain": [-1.05, 394.24], "nice": false, "zero": false}, "axis": null},
        "y": {"datum": 515.839, "type": "quantitative", "scale": {"domain": [492.894, 515.587], "nice": false, "zero": false}, "axis": null},
        "text": {"field": "t"}
      }
    },
    {
      "data": {"values": [{"t": "513.588"}]},
      "mark": {"type": "text", "align": "left", "baseline": "middle", "font": "Liberation Sans", "fontSize": 12.5, "color": "#1aa31a"},
      "encoding": {
        "x": {"datum": 105.93, "type": "quantitative", "scale": {"domain": [-1.05, 394.24], "nice": false, "zero": false}, "axis": null},
        "y": {"datum": 515.839, "type": "quantitative", "scale": {"domain": [492.894, 515.587], "nice": false, "zero": false}, "axis": null},
        "text": {"field": "t"}
      }
    },
    {
      "data": {"values": [{"t": "513.912"}]},
      "mark": {"type": "text", "align": "left", "baseline": "middle", "font": "Liberation Sans", "fontSize": 12.5, "color": "#1aa31a"},
      "encoding": {
        "x": {"datum": 121.87, "type": "quantitative", "scale": {"domain": [-1.05, 394.24], "nice": false, "zero": false}, "axis": null},
        "y": {"datum": 515.839, "type": "quantitative", "scale": {"domain": [492.894, 515.587], "nice": false, "zero": false}, "axis": null},
        "text": {"field": "t"}
      }
    },
    {
      "data": {"values": [{"t": "Created with"}]},
      "mark": {"type": "text", "align": "left", "baseline": "middle", "font": "Liberation Sans", "fontSize": 13, "color": "#1e222d"},
      "encoding": {
        "x": {"datum": -1.55, "type": "quantitative", "scale": {"domain": [-1.05, 394.24], "nice": false, "zero": false}, "axis": null},
        "y": {"datum": 492.475, "type": "quantitative", "scale": {"domain": [492.894, 515.587], "nice": false, "zero": false}, "axis": null},
        "text": {"field": "t"}
      }
    },
    {
      "data": {"values": [{"t": "TradingView"}]},
      "mark": {"type": "text", "align": "left", "baseline": "middle", "font": "Liberation Sans", "fontSize": 13, "color": "#3fa7ef"},
      "encoding": {
        "x": {"datum": 24.39, "type": "quantitative", "scale": {"domain": [-1.05, 394.24], "nice": false, "zero": false}, "axis": null},
        "y": {"datum": 492.475, "type": "quantitative", "scale": {"domain": [492.894, 515.587], "nice": false, "zero": false}, "axis": null},
        "text": {"field": "t"}
      }
    }
  ]
}
